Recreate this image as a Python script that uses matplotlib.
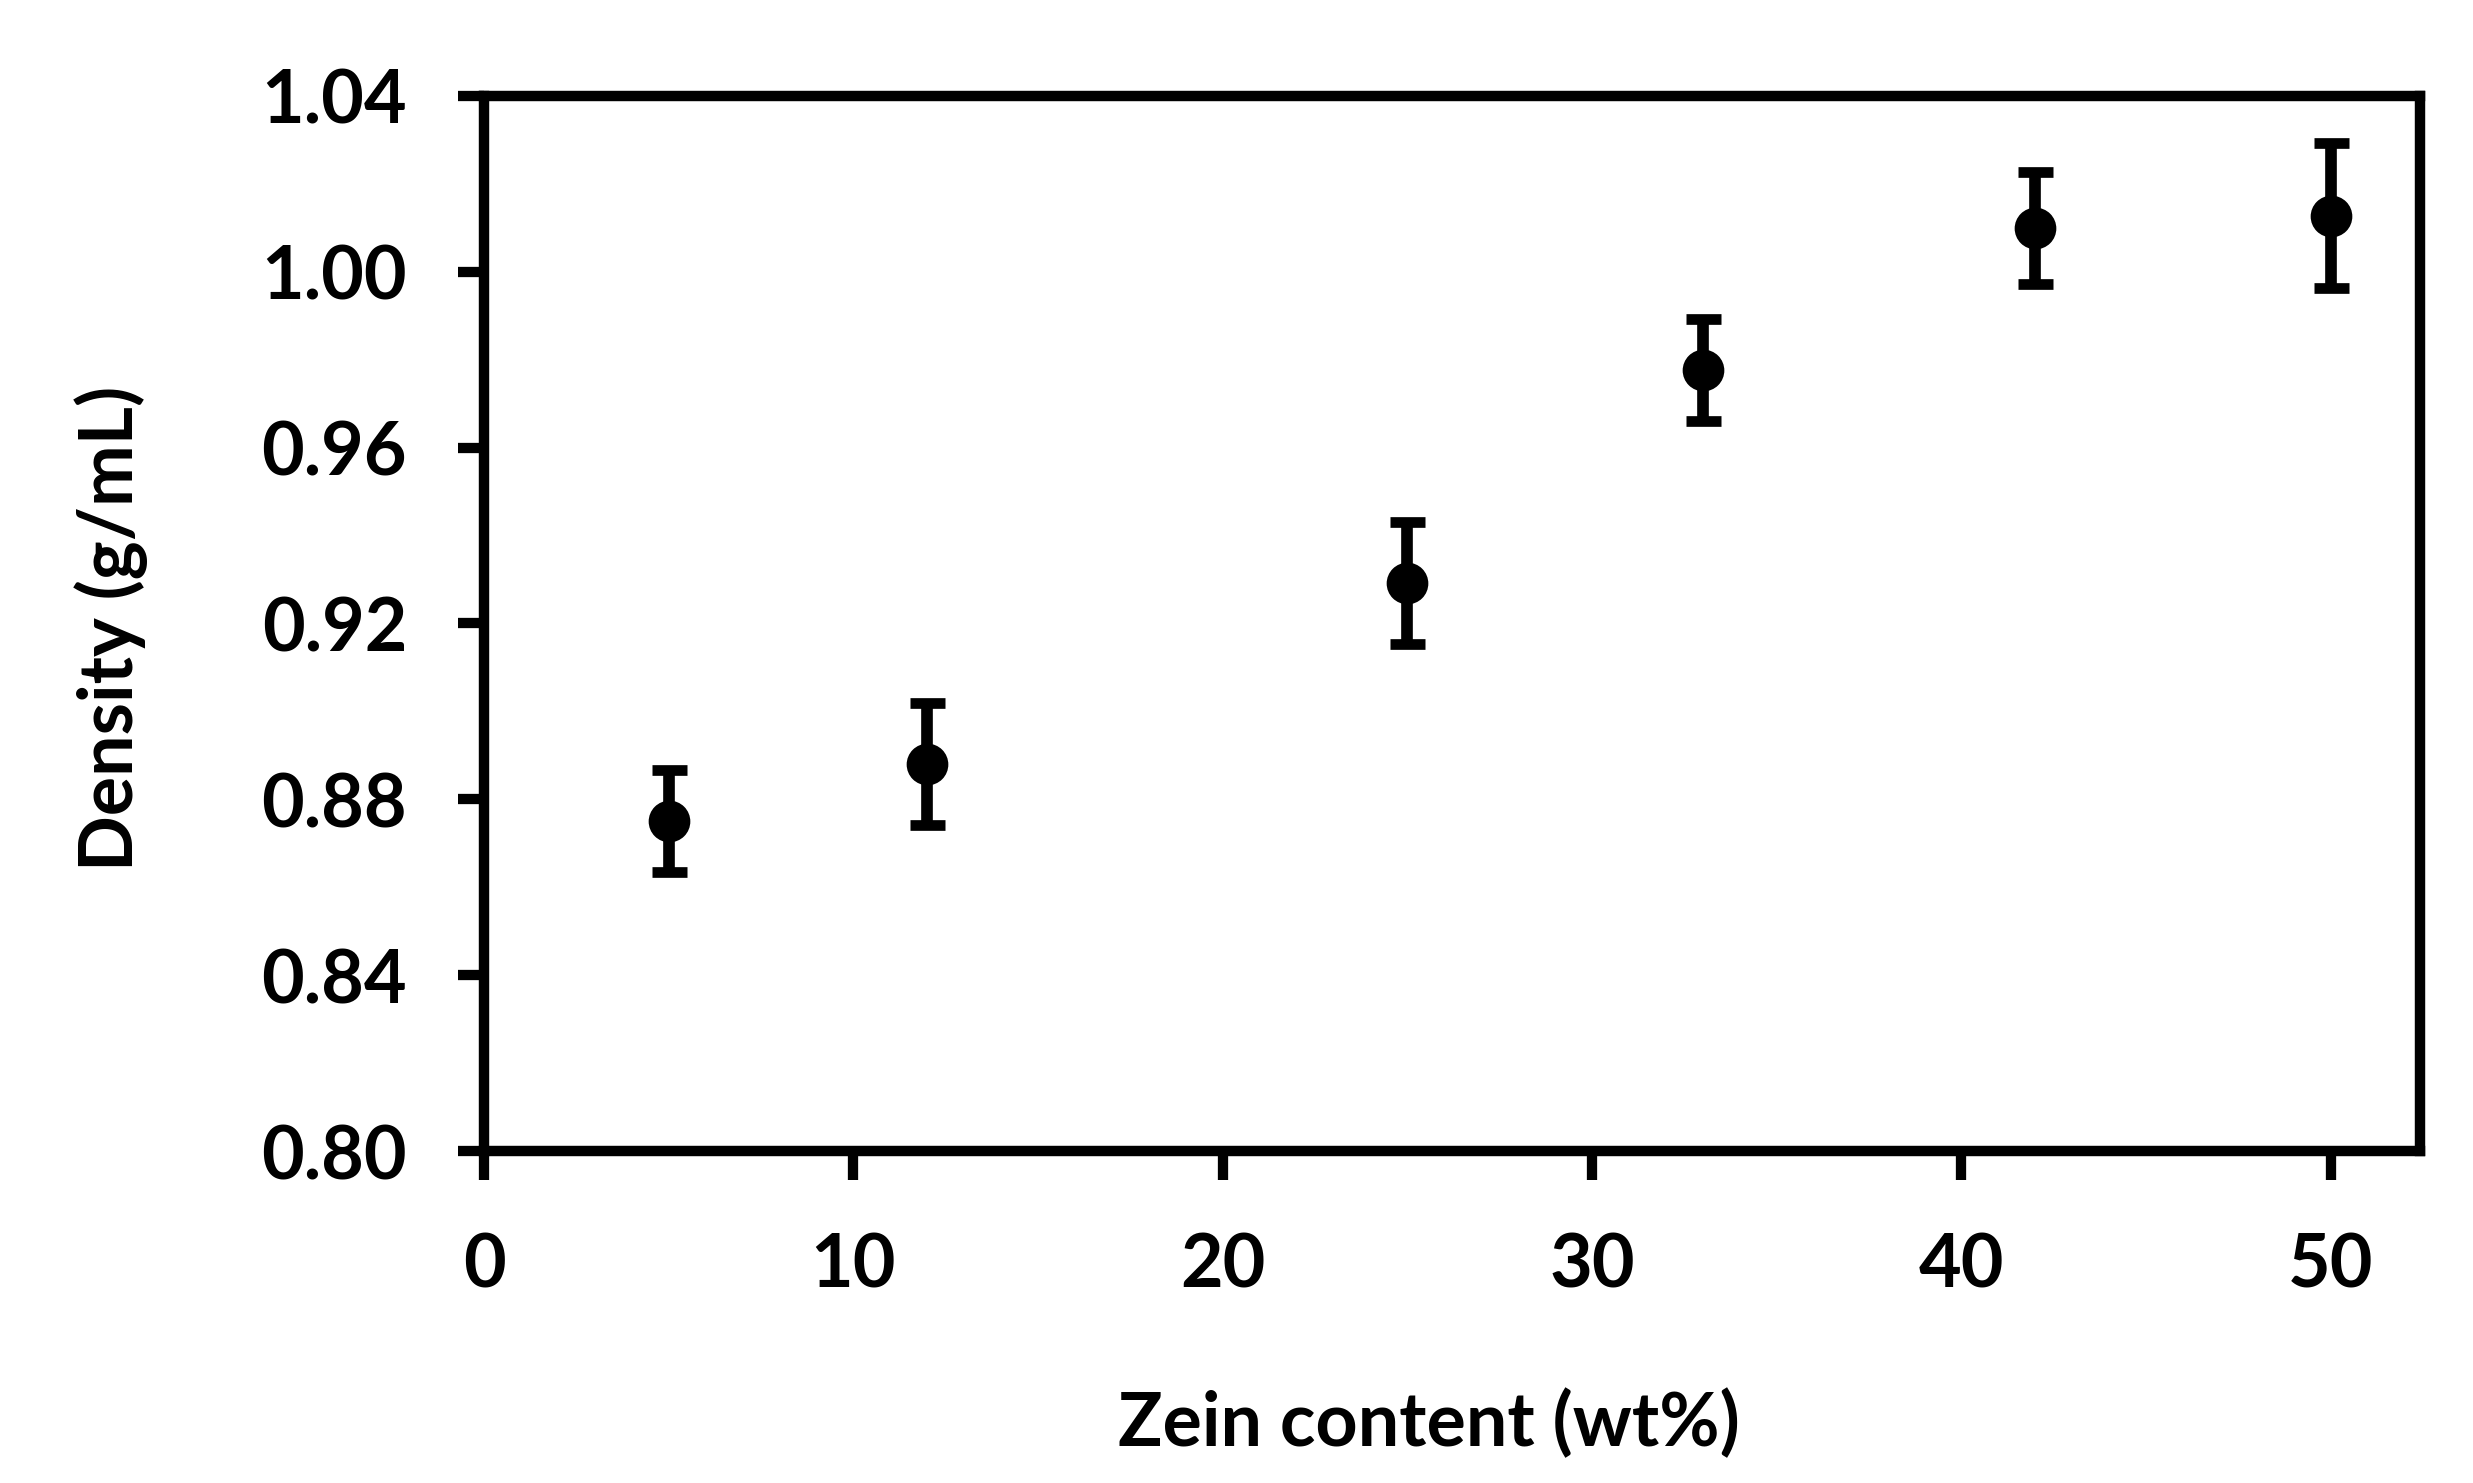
import matplotlib
matplotlib.use("Agg")
import matplotlib.pyplot as plt

# zein content (wt%) vs density (g/mL), mean +/- error
zein = [5, 12, 25, 33, 42, 50]
density = [0.8751, 0.8880, 0.9292, 0.9777, 1.0100, 1.0128]
density_err = [0.0116, 0.0139, 0.0139, 0.0116, 0.0127, 0.0164]

x_ticks = [0, 10, 20, 30, 40, 50]
y_ticks = [0.80, 0.84, 0.88, 0.92, 0.96, 1.00, 1.04]

plt.rcParams["font.family"] = ["Lato", "DejaVu Sans"]
plt.rcParams["font.weight"] = "bold"

fig = plt.figure(figsize=(24.73, 14.83), dpi=100)
ax = fig.add_axes([0.19572, 0.22387, 0.78286, 0.7114])

# bars and caps first, then the filled circles on top
ax.errorbar(zein, density, yerr=density_err, fmt="none", ecolor="black",
            elinewidth=8.4, capsize=12.6, capthick=7.7, zorder=3)
ax.plot(zein, density, "o", color="black", ms=30, mew=0, zorder=4)

ax.set_xlim(0, 52.42)
ax.set_ylim(0.80, 1.04)
ax.set_xticks(x_ticks)
ax.set_yticks(y_ticks)
ax.set_yticklabels([f"{v:.2f}" for v in y_ticks])

for s in ax.spines.values():
    s.set_linewidth(7.5)
    s.set_color("black")

ax.tick_params(axis="x", direction="out", length=20.9, width=7.4, pad=37.4,
               labelsize=53)
ax.tick_params(axis="y", direction="out", length=18.7, width=7.4, pad=36.7,
               labelsize=53)
for lbl in ax.get_xticklabels() + ax.get_yticklabels():
    lbl.set_fontweight("bold")

ax.set_xlabel("Zein content (wt%)", fontsize=53, fontweight="bold")
ax.set_ylabel("Density (g/mL)", fontsize=53, fontweight="bold")
ax.xaxis.set_label_coords(0.488, -0.2256)
ax.yaxis.set_label_coords(-0.1736, 0.495)

fig.savefig("out.png", dpi=100, facecolor="white")
